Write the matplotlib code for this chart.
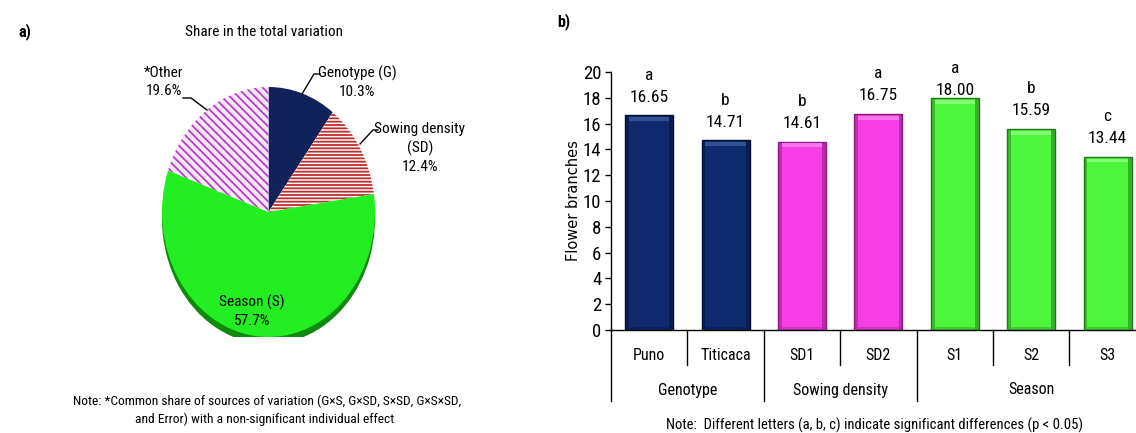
import matplotlib
matplotlib.use("Agg")
import matplotlib.pyplot as plt
from matplotlib.lines import Line2D
from matplotlib.patches import Rectangle, Wedge
import matplotlib.transforms as mtransforms

# ---------------- data ----------------
pie_labels = ["Genotype (G)", "Sowing density\n(SD)", "Season (S)", "*Other"]
pie_shares = [10.3, 12.4, 57.7, 19.6]

categories = ["Puno", "Titicaca", "SD1", "SD2", "S1", "S2", "S3"]
values = [16.65, 14.71, 14.61, 16.75, 18.00, 15.59, 13.44]
letters = ["a", "b", "b", "a", "a", "b", "c"]
groups = ["Genotype", "Sowing density", "Season"]
group_sizes = [2, 2, 3]
y_ticks = [0, 2, 4, 6, 8, 10, 12, 14, 16, 18, 20]

# ---------------- style ----------------
FONT = ["Roboto Condensed", "Lato", "DejaVu Sans"]
plt.rcParams["font.family"] = FONT
plt.rcParams["hatch.linewidth"] = 1.3

W, H = 1136, 433
fig = plt.figure(figsize=(W / 100, H / 100), dpi=100)


def fx(x):
    return x / W


def fy(y):
    return 1 - y / H


# ---------------- panel a: pie ----------------
pie_face = ["#0f2259", "white", "#22ee22", "#fbe6fb"]
pie_edge = ["#0f2259", "#c42a2a", "#22ee22", "#b044c4"]
pie_hatch = [None, "-----", None, "\\\\\\\\"]

axp = fig.add_axes([fx(162), fy(337), fx(213), 250 / H])
start = 90.0
angles = []
for s in pie_shares:
    a1 = start - s * 3.6
    angles.append((a1, start))
    start = a1
a1, a2 = angles[2]
axp.add_patch(Wedge((0, -0.055), 1.0, a1, a2, facecolor="#0c8a0c", lw=0))
for (t1, t2), fc, ec, hh in zip(angles, pie_face, pie_edge, pie_hatch):
    axp.add_patch(Wedge((0, 0), 1.0, t1, t2, facecolor=fc, edgecolor=ec,
                        hatch=hh, lw=0))
axp.set_xlim(-1, 1)
axp.set_ylim(-1, 1)
axp.set_aspect("auto")
axp.axis("off")

fig.text(fx(18), fy(32), "a)", fontsize=11.5, fontweight="bold", ha="left", va="center")
fig.text(fx(264), fy(32), "Share in the total variation", fontsize=11, ha="center", va="center")

pie_label_pos = [(357, 82), (420, 148), (252, 311), (164, 82)]
for lab, sh, (px, py) in zip(pie_labels, pie_shares, pie_label_pos):
    fig.text(fx(px), fy(py), f"{lab}\n{sh:.1f}%", fontsize=11, ha="center",
             va="center", linespacing=1.35)

leaders = [
    [(320, 74), (314, 74), (302, 94)],
    [(378, 130), (373, 130), (360, 144)],
    [(183, 98), (191, 98), (207, 110)],
]
for pts in leaders:
    xs = [fx(p[0]) for p in pts]
    ys = [fy(p[1]) for p in pts]
    fig.add_artist(Line2D(xs, ys, transform=fig.transFigure, color="black", lw=1.0))

fig.text(fx(267), fy(401),
         "Note: *Common share of sources of variation (G\u00d7S, G\u00d7SD, S\u00d7SD, G\u00d7S\u00d7SD,",
         fontsize=9.7, ha="center", va="center")
fig.text(fx(265), fy(419), "and Error) with a non-significant individual effect",
         fontsize=9.7, ha="center", va="center")

# ---------------- panel b: bars ----------------
bar_colors = ["#0f2a6e", "#0f2a6e", "#f53ee3", "#f53ee3", "#4df53c", "#4df53c", "#4df53c"]
bar_dark = ["#061033", "#061033", "#8a1a7c", "#8a1a7c", "#1e7a16", "#1e7a16", "#1e7a16"]
bar_light = ["#4a6aae", "#4a6aae", "#ff9af2", "#ff9af2", "#a8ff9c", "#a8ff9c", "#a8ff9c"]

ax_left, ax_right, ax_top, ax_bot = 611, 1136, 72, 330
cat_w = 76.4
axb = fig.add_axes([fx(ax_left), fy(ax_bot), fx(ax_right - ax_left), (ax_bot - ax_top) / H])
x = list(range(len(categories)))
bw = 0.63
axb.bar(x, values, width=bw, color=bar_colors, edgecolor=bar_dark, lw=1.0, zorder=2)
for xi, v, dk, lt in zip(x, values, bar_dark, bar_light):
    axb.add_patch(Rectangle((xi - bw / 2, 0), 0.05, v, facecolor=dk, alpha=0.45, lw=0, zorder=3))
    axb.add_patch(Rectangle((xi + bw / 2 - 0.05, 0), 0.05, v, facecolor=dk, alpha=0.55, lw=0, zorder=3))
    axb.add_patch(Rectangle((xi - bw / 2 + 0.05, v - 0.45), bw - 0.1, 0.3, facecolor=lt, alpha=0.6, lw=0, zorder=3))
    axb.add_patch(Rectangle((xi - bw / 2 + 0.05, 0), bw - 0.1, 0.25, facecolor=dk, alpha=0.3, lw=0, zorder=3))

for xi, v, lt in zip(x, values, letters):
    ly = min(v + 3.1, 20.3)
    axb.text(xi, ly, lt, ha="center", va="center", fontsize=12.5)
    axb.text(xi, ly - 1.7, f"{v:.2f}", ha="center", va="center", fontsize=12.5)

axb.set_xlim(-0.5, -0.5 + (ax_right - ax_left) / cat_w)
axb.set_ylim(0, 20)
axb.set_yticks(y_ticks)
axb.set_yticklabels([str(t) for t in y_ticks], fontsize=13.5)
axb.tick_params(axis="y", length=4, width=1, direction="out", pad=3)
axb.tick_params(axis="x", length=0, labelbottom=False)
for sp in ["top", "right"]:
    axb.spines[sp].set_visible(False)
axb.spines["left"].set_linewidth(1.0)
axb.spines["bottom"].set_linewidth(1.0)
axb.set_ylabel("Flower branches", family="DejaVu Sans", fontsize=10.5, labelpad=1)

trans = mtransforms.blended_transform_factory(axb.transData, axb.transAxes)
row1_bot = -(365 - ax_bot) / (ax_bot - ax_top)
row2_bot = -(401 - ax_bot) / (ax_bot - ax_top)
row1_lab = -(355 - ax_bot) / (ax_bot - ax_top)
row2_lab = -(390 - ax_bot) / (ax_bot - ax_top)

for xi, c in zip(x, categories):
    axb.text(xi, row1_lab, c, transform=trans, ha="center", va="center", fontsize=11.5)

bounds = [0]
for g in group_sizes:
    bounds.append(bounds[-1] + g)
for b in range(len(categories) + 1):
    xb = b - 0.5
    bottom = row2_bot if b in bounds else row1_bot
    axb.plot([xb, xb], [0, bottom], transform=trans, color="black", lw=1.0, clip_on=False)
for g, b0, b1 in zip(groups, bounds[:-1], bounds[1:]):
    axb.text((b0 + b1) / 2 - 0.5, row2_lab, g, transform=trans, ha="center", va="center", fontsize=11.5)

fig.text(fx(557), fy(22), "b)", fontsize=11.5, fontweight="bold", ha="left", va="center")
fig.text(fx(875), fy(425), "Note:  Different letters (a, b, c) indicate significant differences (p < 0.05)",
         fontsize=10.5, ha="center", va="center")

fig.savefig("out.png", dpi=100)
